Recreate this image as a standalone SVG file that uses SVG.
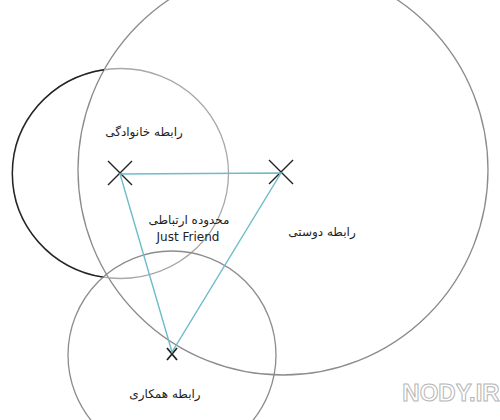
<svg xmlns="http://www.w3.org/2000/svg" width="500" height="420" viewBox="0 0 500 420">
<style>
.ring{fill:none;stroke:#8c8c8c;stroke-width:1.3}
.ring-light{fill:none;stroke:#a8a8a8;stroke-width:1.3}
.dark{fill:none;stroke:#222;stroke-width:1.4}
.link{stroke:#6dbcc9;stroke-width:1.4;fill:none}
.mark{stroke:#222;stroke-width:1.4}
.lbl{font-family:"DejaVu Sans","Liberation Sans",sans-serif;font-size:12px;fill:#222;text-anchor:middle}
.wm{font-family:"Liberation Sans","DejaVu Sans",sans-serif;font-size:24px;fill:#fff;stroke:#b5b5b5;stroke-width:1;text-anchor:middle;font-weight:bold}
</style>
<rect width="500" height="420" fill="#fff"/>
<g id="friendship">
<circle class="ring" cx="283" cy="170" r="205"/>
<path class="mark" d="M269 160 L293 184 M293 160 L269 184"/>
<text class="lbl" x="322" y="236">رابطه دوستی</text>
</g>
<g id="family">
<ellipse class="ring-light" cx="120.5" cy="173.5" rx="108" ry="105"/>
<path class="dark" d="M104 69.7 A108 105 0 0 0 104 277.3"/>
<path class="mark" d="M108 161 L132 185 M132 161 L108 185"/>
<text class="lbl" x="144" y="136">رابطه خانوادگی</text>
</g>
<g id="work">
<circle class="ring" cx="172" cy="355" r="104"/>
<path class="mark" style="stroke-width:1.8" d="M167 348 L177 360 M177 348 L167 360"/>
<text class="lbl" x="165" y="398">رابطه همکاری</text>
</g>
<g id="connectors">
<path class="link" d="M120 174 L281 173 L172 352 Z"/>
</g>
<g id="range">
<text class="lbl" x="189" y="224">محدوده ارتباطی</text>
<text class="lbl" x="188" y="241">Just Friend</text>
</g>
<text class="wm" x="451" y="401">NODY.IR</text>
</svg>
